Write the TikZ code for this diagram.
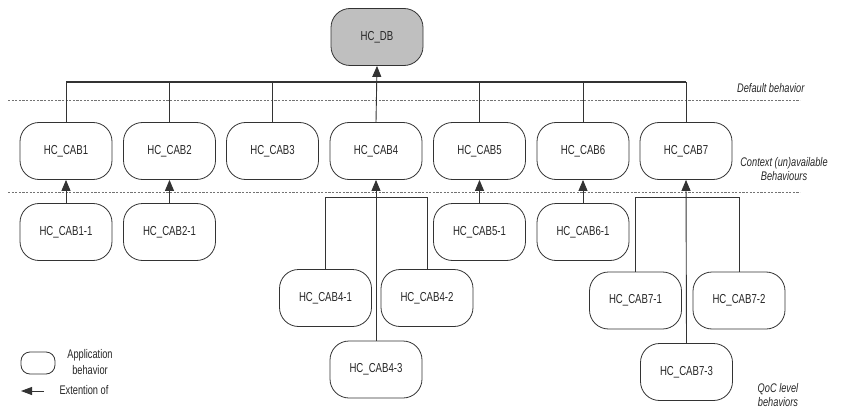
\documentclass[tikz,border=0pt]{standalone}
\usepackage{fontspec}
\setmainfont[FakeStretch=0.74]{Liberation Sans}
\usetikzlibrary{arrows.meta}
\begin{document}
\begin{tikzpicture}[x=1pt,y=-1pt,
  beh/.style={draw=black!80, line width=0.8pt, rounded corners=19pt, minimum width=92pt, minimum height=57pt, inner sep=0pt, font=\fontsize{13}{15}\selectfont, text=black!85},
  conn/.style={draw=black!80, line width=0.9pt},
  arr/.style={conn, -{Triangle[length=11pt,width=9pt]}},
  sep/.style={draw=black!55, line width=0.7pt, dash pattern=on 2.2pt off 1.4pt},
  lab/.style={font=\fontsize{12.5}{14}\selectfont\itshape, align=center, text=black!85},
  leg/.style={font=\fontsize{12.5}{15.5}\selectfont, align=center, text=black!85}]
\useasboundingbox (0,0) rectangle (843,409);
% separators
\coordinate (s1l) at (8,100); \coordinate (s1r) at (800,100);
\coordinate (s2l) at (8,192); \coordinate (s2r) at (800,192);
\draw[sep] (s1l) -- (s1r);
\draw[sep] (s2l) -- (s2r);
% nodes
\node[beh, fill=black!25] (db) at (377,37) {HC\_DB};
\node[beh] (c1) at (66,151) {HC\_CAB1};
\node[beh] (c2) at (169.5,151) {HC\_CAB2};
\node[beh] (c3) at (272.5,151) {HC\_CAB3};
\node[beh] (c4) at (376,151) {HC\_CAB4};
\node[beh] (c5) at (479.5,151) {HC\_CAB5};
\node[beh] (c6) at (583,151) {HC\_CAB6};
\node[beh] (c7) at (686,151) {HC\_CAB7};
\node[beh] (c11) at (66,232) {HC\_CAB1-1};
\node[beh] (c21) at (169.5,232) {HC\_CAB2-1};
\node[beh] (c51) at (479.5,232) {HC\_CAB5-1};
\node[beh] (c61) at (583,232) {HC\_CAB6-1};
\node[beh] (c41) at (325.5,298) {HC\_CAB4-1};
\node[beh] (c42) at (427,298) {HC\_CAB4-2};
\node[beh] (c43) at (376,369.5) {HC\_CAB4-3};
\node[beh] (c71) at (635.5,300.5) {HC\_CAB7-1};
\node[beh] (c72) at (739,300.5) {HC\_CAB7-2};
\node[beh] (c73) at (686.5,372) {HC\_CAB7-3};
% top bus
\coordinate (bus) at (376,82);
\draw[conn, line width=1.2pt] (c1.north |- bus) -- (c7.north |- bus);
\foreach \n in {c1,c2,c3,c5,c6,c7} \draw[conn] (\n.north) -- (\n.north |- bus);
\draw[arr] (c4.north) -- (db.south);
% single extensions
\draw[arr] (c11) -- (c1);
\draw[arr] (c21) -- (c2);
\draw[arr] (c51) -- (c5);
\draw[arr] (c61) -- (c6);
% CAB4 group
\coordinate (b4) at (376,197);
\draw[conn] (c41.north) -- (c41.north |- b4) -- (c42.north |- b4) -- (c42.north);
\draw[arr] (c43.north) -- (c4.south);
% CAB7 group
\coordinate (b7) at (686,197);
\draw[conn] (c71.north) -- (c71.north |- b7) -- (c72.north |- b7) -- (c72.north);
\draw[arr] (c73.north) -- (c7.south);
% level labels
\node[lab, anchor=east] (l1) at (808,88) {Default behavior};
\node[lab] (l2) at (784,169) {Context (un)available\\Behaviours};
\node[lab] (l3) at (778,395) {QoC level\\behaviors};
% legend
\node[draw=black!80, line width=0.8pt, rounded corners=9pt, minimum width=34pt, minimum height=22pt, inner sep=0pt] (lb) at (38,363) {};
\node[leg] (lbt) at (90,362) {Application\\behavior};
\coordinate (la1) at (44,391);
\coordinate (la2) at (21,391);
\draw[conn, -{Triangle[length=11pt,width=8pt]}] (la1) -- (la2);
\node[leg, anchor=west] (lat) at (56,390) {Extention of};
\end{tikzpicture}
\end{document}
